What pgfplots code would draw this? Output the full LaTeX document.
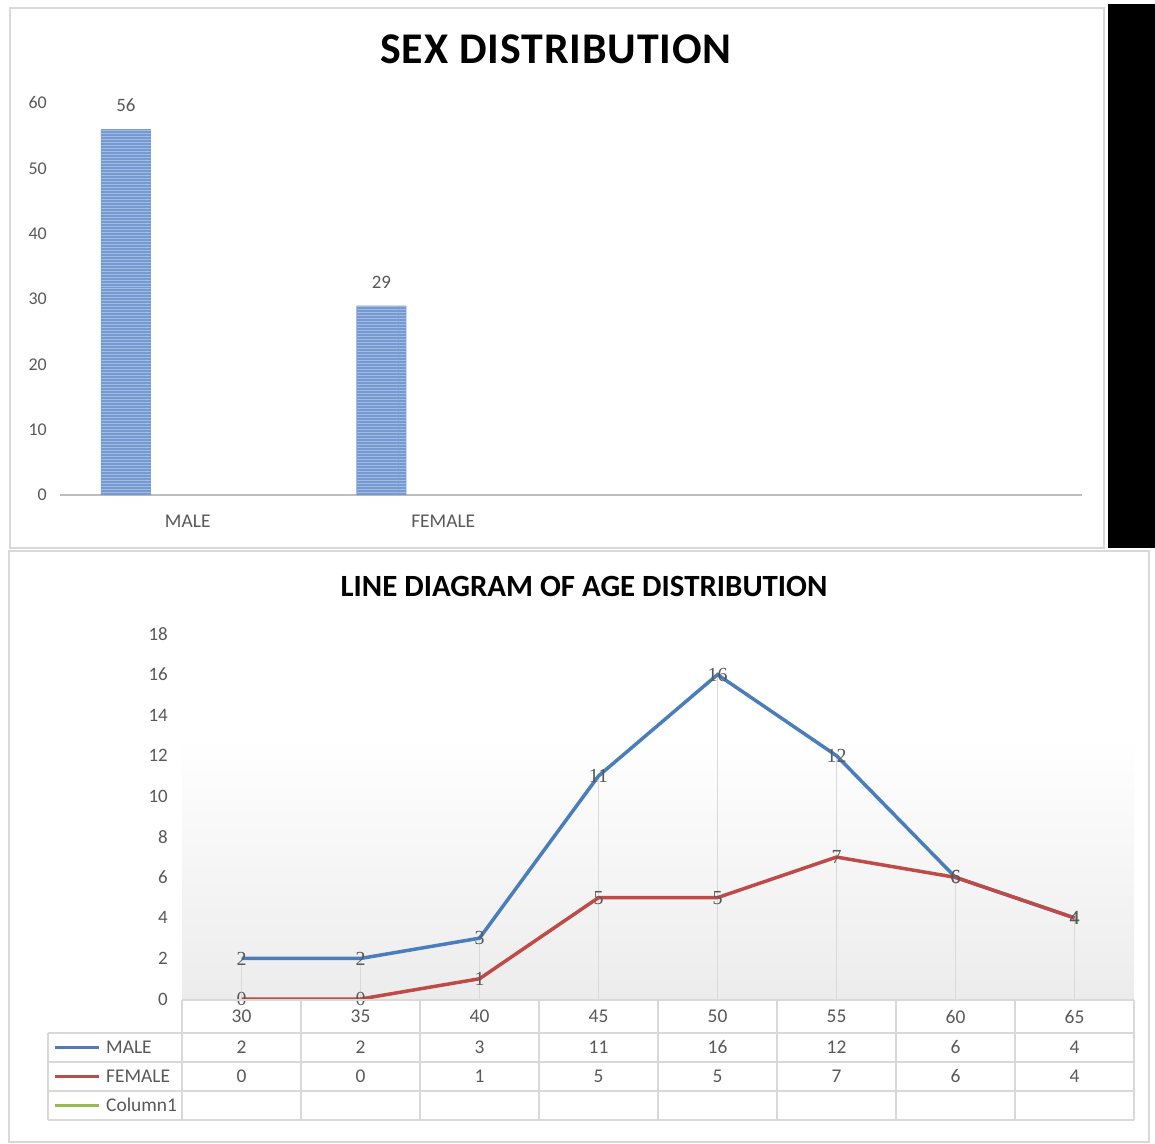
\documentclass[border=0pt]{standalone}
\usepackage{pgfplots}
\pgfplotsset{compat=1.18}
\usepackage{pgfplotstable}
\usepackage{fontspec}
\setmainfont{Carlito}
\newfontfamily\labfont{Liberation Serif}
\usetikzlibrary{patterns}
\definecolor{txtgray}{RGB}{89,89,89}
\definecolor{framegray}{RGB}{217,217,217}
\definecolor{axgray}{RGB}{190,190,190}
\definecolor{barblue}{RGB}{118,154,208}
\definecolor{stripe}{RGB}{160,187,228}
\definecolor{maleblue}{RGB}{74,126,187}
\definecolor{femred}{RGB}{190,75,72}
\definecolor{colgreen}{RGB}{152,185,84}
\definecolor{gradgray}{RGB}{236,236,236}
\newcommand{\fs}[1]{\fontsize{#1}{#1}\selectfont}

\pgfplotstableread{
age male female
30 2 0
35 2 0
40 3 1
45 11 5
50 16 5
55 12 7
60 6 6
65 4 4
}\agedata

\begin{document}
\begin{tikzpicture}[x=1bp,y=1bp]
\path[use as bounding box, fill=white] (0,0) rectangle (1155,-1144);
% frames
\draw[framegray, line width=1.5bp] (10,-8) rectangle (1104,-548);
\draw[framegray, line width=1.5bp] (9,-551) rectangle (1149,-1142);
\fill[black] (1108,-4) rectangle (1155,-548);
% titles
\node[font=\fs{44}\bfseries\addfontfeature{LetterSpace=2}] at (556,-49) {SEX DISTRIBUTION};
\node[font=\fs{31}\bfseries] at (584,-586) {LINE DIAGRAM OF AGE DISTRIBUTION};

\begin{axis}[
  at={(60bp,-495bp)}, anchor=south west, scale only axis,
  width=1022bp, height=392bp,
  xmin=0, xmax=4, ymin=0, ymax=60,
  axis lines*=left,
  y axis line style={draw=none},
  x axis line style={draw=axgray, line width=1.5bp},
  ytick={0,10,...,60},
  xtick={0.5,1.5}, xticklabels={MALE,FEMALE},
  major tick length=0pt,
  yticklabel style={font=\fs{18}, text=txtgray, inner sep=0pt, xshift=-13bp},
  xticklabel style={font=\fs{19.5}, text=txtgray, inner sep=0pt, anchor=north, yshift=-20bp},
  /pgf/number format/assume math mode=true,
  clip=false,
]
\addplot[ybar, bar width=50bp, fill=barblue, draw=none,
  postaction={pattern=horizontal lines, pattern color=stripe},
  nodes near coords,
  nodes near coords style={font=\fs{19}, text=txtgray, inner sep=0pt, anchor=south, yshift=17bp}]
  coordinates {(0.258,56) (1.258,29)};
\end{axis}

% plot area gradient of the line chart
\shade[top color=white, bottom color=gradgray] (182,-738) rectangle (1134,-999);

\begin{axis}[
  at={(182bp,-999bp)}, anchor=south west, scale only axis,
  width=952bp, height=365bp,
  xmin=27.5, xmax=67.5, ymin=0, ymax=18,
  axis line style={draw=none},
  ytick={0,2,...,18}, xtick={30,35,...,65},
  major tick length=0pt,
  yticklabel style={font=\fs{19}, text=txtgray, inner sep=0pt, xshift=-14bp},
  xticklabel style={font=\fs{19.5}, text=txtgray, inner sep=0pt, anchor=north, yshift=-11bp},
  /pgf/number format/assume math mode=true,
  clip=false,
]
\addplot[ycomb, draw=framegray, line width=1bp, no markers] table[x=age,y=male] {\agedata};
\addplot[draw=maleblue, line width=3.5bp, no markers,
  nodes near coords,
  nodes near coords style={font=\labfont\fs{20}, text=txtgray, inner sep=0pt, anchor=center}]
  table[x=age,y=male] {\agedata};
\addplot[draw=femred, line width=3.5bp, no markers,
  nodes near coords,
  nodes near coords style={font=\labfont\fs{20}, text=txtgray, inner sep=0pt, anchor=center}]
  table[x=age,y=female] {\agedata};
\end{axis}

% data table
\draw[framegray, line width=1.2bp] (182,-1000) -- (1134,-1000);
\foreach \yy in {1033,1062,1091,1120} \draw[framegray, line width=1.2bp] (48,-\yy) -- (1134,-\yy);
\draw[framegray, line width=1.2bp] (48,-1033) -- (48,-1120);
\foreach \i in {0,...,8} \draw[framegray, line width=1.2bp] ({182+\i*119},-1000) -- ({182+\i*119},-1120);
\draw[maleblue, line width=3bp] (55,-1047) -- (99,-1047);
\draw[femred, line width=3bp] (55,-1076) -- (99,-1076);
\draw[colgreen, line width=3bp] (55,-1105) -- (99,-1105);
\node[anchor=west, inner sep=0pt, font=\fs{19.5}, text=txtgray] at (106,-1047) {MALE};
\node[anchor=west, inner sep=0pt, font=\fs{19.5}, text=txtgray] at (106,-1076) {FEMALE};
\node[anchor=west, inner sep=0pt, font=\fs{19.5}, text=txtgray] at (106,-1105) {Column1};
\foreach \v [count=\i from 0] in {2,2,3,11,16,12,6,4}
  \node[font=\fs{19.5}, text=txtgray] at ({241.5+\i*119},-1047) {\v};
\foreach \v [count=\i from 0] in {0,0,1,5,5,7,6,4}
  \node[font=\fs{19.5}, text=txtgray] at ({241.5+\i*119},-1076) {\v};
\end{tikzpicture}
\end{document}
